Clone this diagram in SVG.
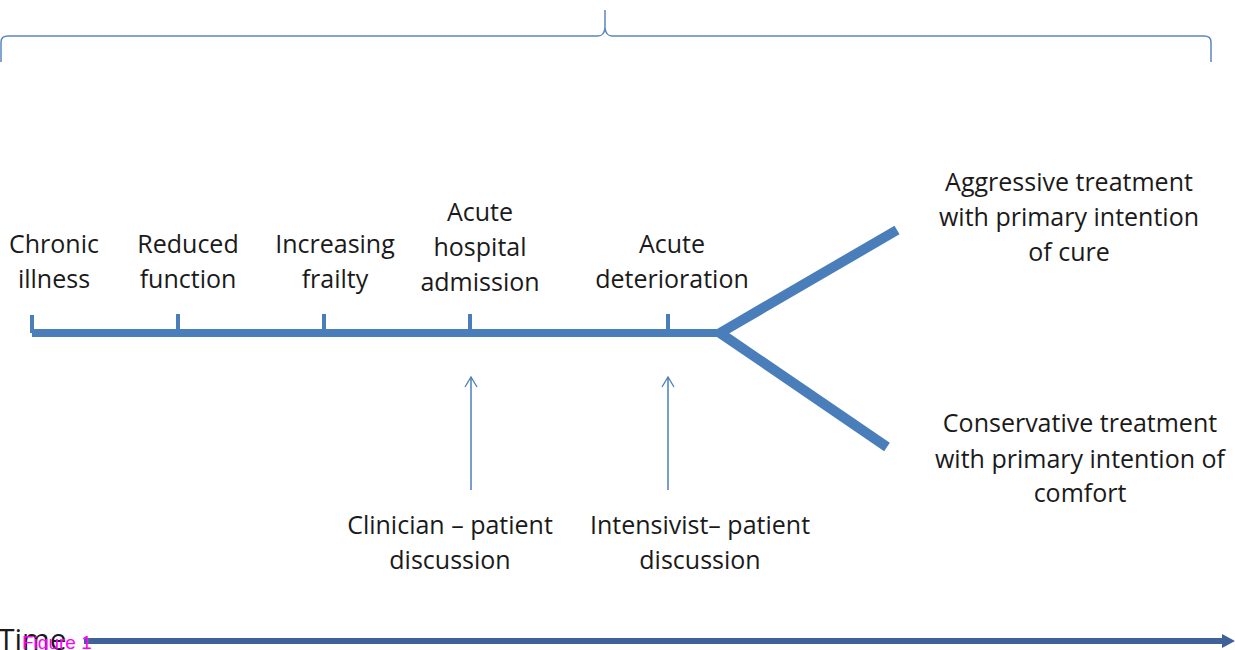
<svg xmlns="http://www.w3.org/2000/svg" width="1235" height="650" viewBox="0 0 1235 650">
<defs>
<style>
.t{font-family:"Open Sans","Liberation Sans",sans-serif;font-size:25px;fill:#1a1a1a;text-anchor:middle}
.bar{stroke:#4a7ebb;fill:none}
.thin{stroke:#4a7ebb;stroke-width:1.5;fill:none}
</style>
<marker id="open" viewBox="0 0 12 14" refX="11" refY="7" markerWidth="12" markerHeight="14" markerUnits="userSpaceOnUse" orient="auto">
<path d="M1,1 L11,7 L1,13" fill="none" stroke="#4a7ebb" stroke-width="1.3"/>
</marker>
</defs>
<rect width="1235" height="650" fill="#fff"/>
<g id="brace">
<path d="M1,62 L1,42 Q1,36 8,36 L598,36 Q604,36 605,28 L605,10 L605,28 Q606,36 612,36 L1204,36 Q1211,36 1211,42 L1211,62" fill="none" stroke="#5b86c0" stroke-width="1.5"/>
</g>
<g id="connectors">
<path class="bar" d="M32,333 L720,333" stroke-width="8"/>
<path class="bar" d="M32,315 V333 M178,314 V333 M324,314 V333 M470,314 V333 M668,314 V333" stroke-width="4"/>
<path class="bar" d="M897,230 L720,333 L887,447" stroke-width="10"/>
<line class="thin" x1="471" y1="490" x2="471" y2="377" marker-end="url(#open)"/>
<line class="thin" x1="668" y1="490" x2="668" y2="377" marker-end="url(#open)"/>
<path d="M84,638 L1222,638 L1222,634 L1235,641 L1222,648 L1222,644 L84,644 Z" fill="#3d6198"/>
</g>
<g id="n-chronic"><text class="t" x="54" y="253">Chronic</text><text class="t" x="54" y="288">illness</text></g>
<g id="n-reduced"><text class="t" x="188" y="253">Reduced</text><text class="t" x="188" y="288">function</text></g>
<g id="n-frailty"><text class="t" x="335" y="253">Increasing</text><text class="t" x="335" y="288">frailty</text></g>
<g id="n-admission"><text class="t" x="480" y="221">Acute</text><text class="t" x="480" y="256">hospital</text><text class="t" x="480" y="291">admission</text></g>
<g id="n-deterioration"><text class="t" x="672" y="253">Acute</text><text class="t" x="672" y="288">deterioration</text></g>
<g id="n-aggressive"><text class="t" x="1069" y="191">Aggressive treatment</text><text class="t" x="1069" y="226">with primary intention</text><text class="t" x="1069" y="261">of cure</text></g>
<g id="n-conservative"><text class="t" x="1080" y="432">Conservative treatment</text><text class="t" x="1080" y="468">with primary intention of</text><text class="t" x="1080" y="502">comfort</text></g>
<g id="n-clinician"><text class="t" x="450" y="534">Clinician – patient</text><text class="t" x="450" y="569">discussion</text></g>
<g id="n-intensivist"><text class="t" x="700" y="534">Intensivist– patient</text><text class="t" x="700" y="569">discussion</text></g>
<g id="n-time"><text x="-2" y="650" font-family="Open Sans, Liberation Sans, sans-serif" font-size="30" fill="#1a1a1a">Time</text></g>
<g id="n-figure"><text x="22" y="649" font-family="Liberation Sans, Arial, sans-serif" font-size="19" fill="#ff00ff">Figure 1</text></g>
</svg>
